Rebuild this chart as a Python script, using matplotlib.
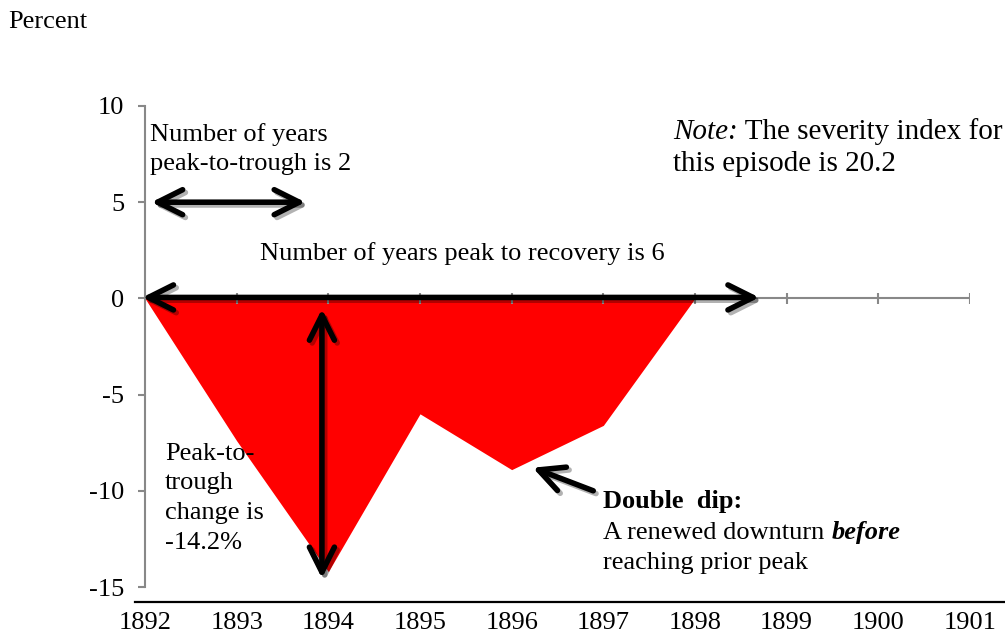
import matplotlib

matplotlib.use("Agg")
import matplotlib.pyplot as plt
import matplotlib.patheffects as pe
from matplotlib.lines import Line2D

plt.rcParams["font.family"] = ["Liberation Serif", "DejaVu Serif"]

years = [1892, 1893, 1894, 1895, 1896, 1897, 1898]
change = [0.0, -7.4, -14.2, -6.0, -8.9, -6.6, 0.0]
axis_years = list(range(1892, 1902))
y_ticks = [10, 5, 0, -5, -10, -15]

GRAY = "#888888"
FS = 19
shadow = [pe.SimpleLineShadow(offset=(2, -2), shadow_color="k", alpha=0.3), pe.Normal()]


def arrow(ax, start, end, style):
    ax.annotate(
        "", xy=end, xytext=start, zorder=5,
        arrowprops=dict(arrowstyle=style + ",head_length=0.9,head_width=0.45",
                        lw=4, color="k", shrinkA=0, shrinkB=0,
                        mutation_scale=20, path_effects=shadow),
    )


fig = plt.figure(figsize=(10.05, 6.35), dpi=100)
ax = fig.add_axes([145 / 1005, 48 / 635, 825 / 1005, 481 / 635])

ax.fill_between(years, change, 0, color="#ff0000", lw=0, zorder=1)

# axis line at zero with crossing ticks
ax.axhline(0, color=GRAY, lw=1.5, zorder=2)
ax.vlines(axis_years, -0.27, 0.27, color=GRAY, lw=1.5, zorder=2)

ax.set_xlim(1892, 1901)
ax.set_ylim(-15, 10)
ax.set_xticks(axis_years)
ax.set_yticks(y_ticks)
ax.set_yticklabels([str(v) for v in y_ticks])
ax.tick_params(axis="x", length=0, pad=18, labelsize=FS)
ax.tick_params(axis="y", length=5, width=1.5, color=GRAY, pad=10, labelsize=FS)
for side in ("top", "right", "bottom"):
    ax.spines[side].set_visible(False)
ax.spines["left"].set_color(GRAY)
ax.spines["left"].set_linewidth(1.5)

fig.add_artist(Line2D([135 / 1005, 1.0], [1 - 601.5 / 635] * 2, color="k", lw=1.6))

fig.text(8 / 1005, 1 - 22 / 635, "Percent", fontsize=FS, va="center")

# arrows
arrow(ax, (1892.07, 5.0), (1893.75, 5.0), "<->")
arrow(ax, (1891.97, 0.05), (1898.7, 0.05), "<->")
arrow(ax, (1893.93, -0.55), (1893.93, -14.55), "<->")
arrow(ax, (1896.89, -10.0), (1896.23, -8.8), "->")

# annotations (multi-line texts are anchored at the baseline of their last line)
ax.text(1892.06, 6.67, "Number of years\npeak-to-trough is 2", fontsize=FS,
        va="baseline", linespacing=1.43)
ax.text(1893.25, 2.0, "Number of years peak to recovery is 6", fontsize=FS,
        va="baseline")

note = ax.text(1897.76, 8.28, "Note:", fontsize=21, style="italic",
               va="baseline", clip_on=False)
ax.annotate(" The severity index for", xy=(1, 0), xycoords=note, va="bottom",
            fontsize=21, annotation_clip=False)
ax.text(1897.76, 6.63, "this episode is 20.2", fontsize=21, va="baseline",
        clip_on=False)

ax.text(1892.22, -13.03, "Peak-to-\ntrough\nchange is\n-14.2%", fontsize=FS,
        va="baseline", linespacing=1.46)

ax.text(1897.0, -10.9, "Double  dip:", fontsize=FS, weight="bold", va="baseline")
renewed = ax.text(1897.0, -12.5, "A renewed downturn", fontsize=FS, va="baseline")
ax.annotate("before", xy=(1, 0), xycoords=renewed, xytext=(5, 0),
            textcoords="offset points", va="bottom", fontsize=FS,
            weight="bold", style="italic")
ax.text(1897.0, -14.05, "reaching prior peak", fontsize=FS, va="baseline")

fig.savefig("out.png", dpi=100)
